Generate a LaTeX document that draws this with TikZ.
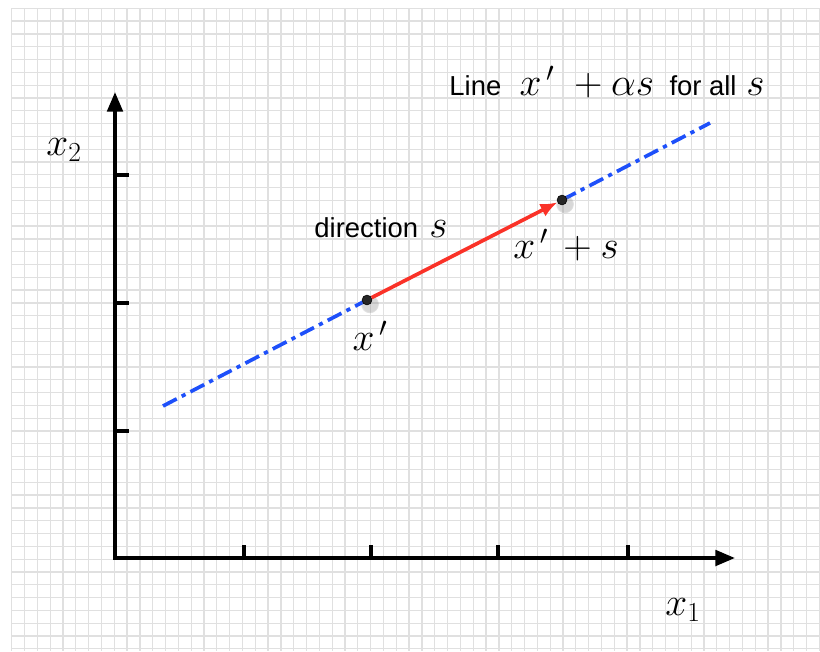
\documentclass[tikz,border=0pt]{standalone}
\usepackage{fix-cm}
\usepackage{fontspec}
\setsansfont{Liberation Sans}
\usetikzlibrary{arrows.meta,shadows,fadings}

\definecolor{setblue}{RGB}{30,80,250}
\definecolor{dirred}{RGB}{250,50,40}
\newcommand{\sfword}[1]{{\fontsize{19.5}{22}\selectfont\sffamily #1}}

\begin{document}
\begin{tikzpicture}[
  x=0.025cm, y=-0.025cm,
  gridline/.style={draw=black!12, line width=0.9pt},
  axis/.style={line width=2.7pt, line cap=rect, -{Triangle[length=14pt, width=11pt]}},
  tick/.style={line width=2.7pt},
  point/.style={circle, fill=black!85, draw=black, inner sep=0pt, minimum size=7pt,
    circular drop shadow={shadow scale=1.9, shadow xshift=1pt, shadow yshift=-1.5pt, opacity=0.3}},
  lineset/.style={draw=setblue, line width=2.6pt, dash pattern=on 11pt off 4pt on 3pt off 4pt},
  dir/.style={draw=dirred, line width=2.6pt, -{Latex[length=12pt, width=10pt]}},
  lbl/.style={font=\fontsize{28}{32}\selectfont, inner sep=0pt}
]
\useasboundingbox (0,0) rectangle (820,651);
\fill[white] (0,0) rectangle (820,651);

% grid paper
\foreach \i in {0,...,63}
  \draw[gridline] ({11.7+12.82*\i},8.3) -- ({11.7+12.82*\i},651);
\foreach \j in {0,...,50}
  \draw[gridline] (11.7,{8.3+12.81*\j}) -- (819.3,{8.3+12.81*\j});

% axes
\coordinate (o) at (115,558);
\coordinate (xend) at (735,558);
\coordinate (yend) at (115,92);
\draw[axis] (o) -- (xend);
\draw[axis] (o) -- (yend);
\foreach \x in {244,371,498,628}
  \draw[tick] (\x,558) -- (\x,545);
\foreach \y in {175,303,431}
  \draw[tick] (115,\y) -- (129,\y);

% the line
\coordinate (lstart) at (163,406);
\coordinate (lend) at (710,123);
\coordinate (p1) at (367,300);
\coordinate (p2) at (562,200);
\draw[lineset] (lstart) -- (p1);
\draw[lineset] (p2) -- (lend);

\node[point] (xp) at (p1) {};
\node[point] (xs) at (p2) {};
\draw[dir] (xp) -- (xs);

\node[lbl] (x2lbl) at (64,150) {$x_2$};
\node[lbl] (x1lbl) at (683,610) {$x_1$};
\node[lbl] (xplbl) at (370,336) {$x^{\,\prime}$};
\node[lbl] (xslbl) at (566,245) {$x^{\,\prime}\,+s$};
\node[lbl] (dirlbl) at (381,228) {\sfword{direction}\hspace{8pt}$s$};
\node[lbl] (linelbl) at (607,82) {\sfword{Line}\hspace{13pt}$x^{\,\prime}\;+\alpha s$\hspace{11pt}\sfword{for all}\hspace{7pt}$s$};
\end{tikzpicture}
\end{document}
